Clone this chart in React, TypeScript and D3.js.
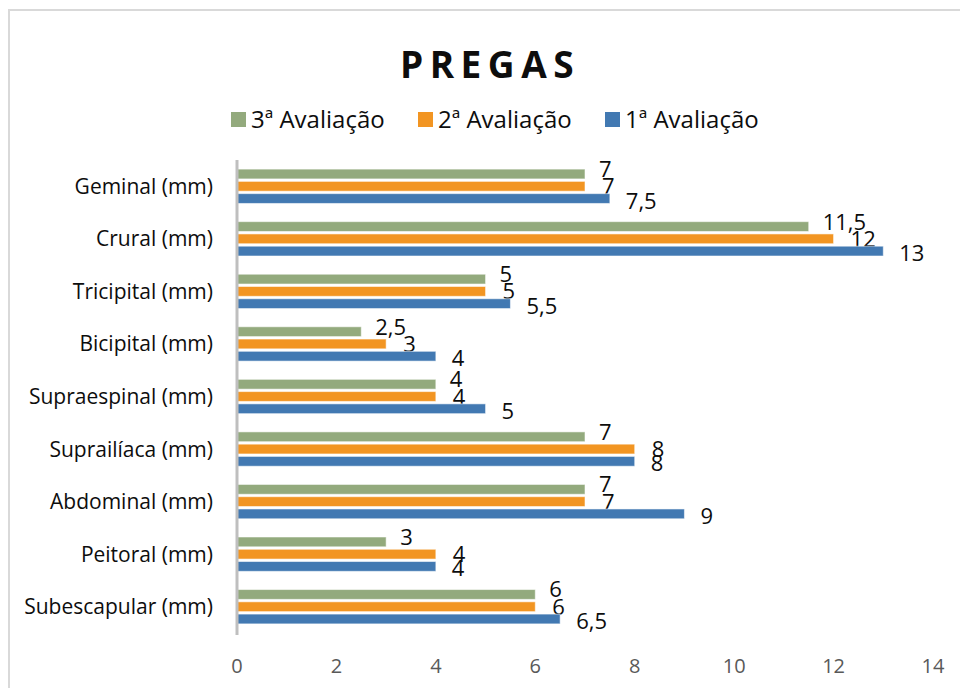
import React from "react";
import * as d3 from "d3";

const categories = [
  "Geminal (mm)",
  "Crural (mm)",
  "Tricipital (mm)",
  "Bicipital (mm)",
  "Supraespinal (mm)",
  "Suprailíaca (mm)",
  "Abdominal (mm)",
  "Peitoral (mm)",
  "Subescapular (mm)",
];
const seriesNames = ["3ª Avaliação", "2ª Avaliação", "1ª Avaliação"];
const aval3 = [7, 11.5, 5, 2.5, 4, 7, 7, 3, 6];
const aval2 = [7, 12, 5, 3, 4, 8, 7, 4, 6];
const aval1 = [7.5, 13, 5.5, 4, 5, 8, 9, 4, 6.5];
const xTicks = [0, 2, 4, 6, 8, 10, 12, 14];
const title = "PREGAS";

const W = 960;
const H = 688;
const colors = ["#93AA7D", "#F29522", "#4279B2"];
const labelDx = [14, 17, 16];
const labelDy = [3, 8, 10];
const FONT = "'Open Sans', 'DejaVu Sans', sans-serif";

const fmt = (v: number) => String(v).replace(".", ",");

export default function App() {
  const values = [aval3, aval2, aval1];
  const x = d3.scaleLinear().domain([0, 14]).range([237, 933]);
  const y = d3
    .scaleBand<string>()
    .domain(categories)
    .range([160, 633])
    .paddingInner(0.3)
    .paddingOuter(0.15);
  const sub = d3
    .scaleBand<string>()
    .domain(seriesNames)
    .range([0, y.bandwidth()])
    .paddingInner(0.2)
    .paddingOuter(0.1);

  const legendX = [231, 418, 605];

  return (
    <svg
      width={W}
      height={H}
      style={{ position: "absolute", left: 0, top: 0, background: "#fff" }}
      fontFamily={FONT}
    >
      <rect x={9} y={10} width={W + 20} height={H + 20} fill="#fff" stroke="#d9d9d9" strokeWidth={2} />
      <text x={490} y={78} textAnchor="middle" fontSize={37} fontWeight="bold" letterSpacing={6.5} fill="#0d0d0d">
        {title}
      </text>
      {seriesNames.map((s, i) => (
        <g key={s}>
          <rect x={legendX[i]} y={112} width={15} height={15} fill={colors[i]} />
          <text x={legendX[i] + 20} y={128} fontSize={24} fill="#0d0d0d">
            {s}
          </text>
        </g>
      ))}
      {categories.map((c) => (
        <text
          key={c}
          x={213}
          y={(y(c) as number) + y.bandwidth() / 2 + 7.5}
          textAnchor="end"
          fontSize={21}
          fill="#0d0d0d"
        >
          {c}
        </text>
      ))}
      {xTicks.map((t) => (
        <text key={t} x={x(t)} y={673} textAnchor="middle" fontSize={20} fill="#595959">
          {t}
        </text>
      ))}
      {seriesNames.map((s, si) =>
        categories.map((c, ci) => {
          const v = values[si][ci];
          const by = (y(c) as number) + (sub(s) as number);
          const bh = sub.bandwidth();
          return (
            <g key={s + c}>
              <rect
                x={x(0)}
                y={by}
                width={x(v) - x(0)}
                height={bh}
                fill={colors[si]}
                stroke="rgba(255,255,255,0.55)"
                strokeWidth={1}
              />
              <text
                x={x(v) + labelDx[si]}
                y={by + bh / 2 + labelDy[si]}
                fontSize={22}
                fill="#0d0d0d"
              >
                {fmt(v)}
              </text>
            </g>
          );
        })
      )}
      <line x1={x(0)} x2={x(0)} y1={160} y2={635} stroke="#bfbfbf" strokeWidth={3} />
    </svg>
  );
}
